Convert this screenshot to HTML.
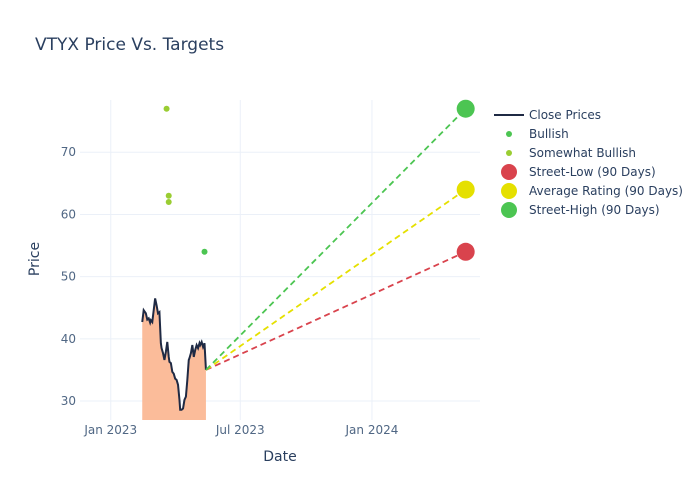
<!DOCTYPE html>
<html><head><meta charset="utf-8"><style>
body{margin:0;background:#fff;font-family:"DejaVu Sans",sans-serif;}
svg text{font-family:"DejaVu Sans",sans-serif;}
</style></head><body>
<svg id="chart" width="700" height="500" xmlns="http://www.w3.org/2000/svg">
<rect width="700" height="500" fill="#fff"/>
<text x="35" y="50" font-size="17" fill="#2a3f5f">VTYX Price Vs. Targets</text>
<g id="grid"></g><g id="marks"></g><g id="axes"></g>
<text x="280" y="461" font-size="14" fill="#2a3f5f" text-anchor="middle">Date</text>
<text x="39" y="259" font-size="14" fill="#2a3f5f" text-anchor="middle" transform="rotate(-90 39 259)">Price</text>
<g id="legend"></g>
</svg>
<script>
// x values are days since 2023-01-01
const closeDays=[44,46,49,51,53,55,56,58,60,62,64,66,68,70,71,73,75,77,79,81,82,84,86,88,90,92,94,96,97,99,101,103,105,107,109,110,112,114,116,118,120,122,124,125,127,129,131,133];
const closePrices=[42.7,44.6,44.1,43.1,43.3,42.6,43.0,42.7,44.6,46.5,45.4,44.1,44.3,39.3,38.5,37.7,36.6,37.9,39.5,37.1,36.3,36.1,34.7,34.4,33.6,33.4,32.6,30.2,28.6,28.6,28.8,30.2,30.7,33.4,36.6,36.9,37.7,39.0,37.1,38.2,39.0,38.5,39.3,39.0,39.5,38.7,39.3,35.0];
const bullishDays=[131];
const bullishPrices=[54];
const somewhatDays=[78,81,81];
const somewhatPrices=[77,63,62];
const targetDay=496;
const targetNames=["Street-Low (90 Days)","Average Rating (90 Days)","Street-High (90 Days)"];
const targetValues=[54,64,77];
const targetColors=["#d9434d","#e5e000","#4cc552"];
const yTicks=[30,40,50,60,70];
const xTickDays=[0,181,365];
const xTickLabels=["Jan 2023","Jul 2023","Jan 2024"];

const NS="http://www.w3.org/2000/svg";
const L=80,R=480,T=100,B=420;
const X0=-43,X1=516,Y0=26.95,Y1=78.4;
const xs=d=>L+(d-X0)/(X1-X0)*(R-L);
const ys=v=>B-(v-Y0)/(Y1-Y0)*(B-T);
function mk(tag,attrs,parent){const e=document.createElementNS(NS,tag);for(const k in attrs)e.setAttribute(k,attrs[k]);parent.appendChild(e);return e;}
const grid=document.getElementById('grid'),marks=document.getElementById('marks'),axes=document.getElementById('axes'),legend=document.getElementById('legend');
yTicks.forEach(v=>{
  const l=mk('line',{x1:L,x2:R,y1:ys(v),y2:ys(v),stroke:'#ebf0f8'},grid);
  
  
  const t=mk('text',{x:L-4,y:ys(v)+4,'font-size':12,fill:'#506784','text-anchor':'end'},axes);
  t.textContent=v;
  
  
});
xTickDays.forEach((d,i)=>{
  const l=mk('line',{x1:xs(d),x2:xs(d),y1:T,y2:B,stroke:'#ebf0f8'},grid);
  
  
  const t=mk('text',{x:xs(d),y:B+14,'font-size':12,fill:'#506784','text-anchor':'middle'},axes);
  t.textContent=xTickLabels[i];
  
  
});
let pts=closeDays.map((d,i)=>xs(d)+','+ys(closePrices[i])).join(' ');
const area=mk('polygon',{points:xs(closeDays[0])+','+B+' '+pts+' '+xs(closeDays[closeDays.length-1])+','+B,fill:'#fbb58f',opacity:0.9},marks);


const line=mk('polyline',{points:pts,fill:'none',stroke:'#1f2a44','stroke-width':2},marks);


const lastD=closeDays[closeDays.length-1],lastP=closePrices[closePrices.length-1];
targetValues.forEach((v,i)=>{
  const tl=mk('line',{x1:xs(lastD),y1:ys(lastP),x2:xs(targetDay),y2:ys(v),stroke:targetColors[i],'stroke-width':1.8,'stroke-dasharray':'6,4'},marks);
  
  
});
targetValues.forEach((v,i)=>{
  const c=mk('circle',{cx:xs(targetDay),cy:ys(v),r:9,fill:targetColors[i]},marks);
  
  
});
bullishDays.forEach((d,i)=>{
  const c=mk('circle',{cx:xs(d),cy:ys(bullishPrices[i]),r:3,fill:'#4cc552'},marks);
  
  
});
somewhatDays.forEach((d,i)=>{
  const c=mk('circle',{cx:xs(d),cy:ys(somewhatPrices[i]),r:3,fill:'#9acd32'},marks);
  
  
});
const items=[["line","#1f2a44","Close Prices"],["s","#4cc552","Bullish"],["xs","#9acd32","Somewhat Bullish"],["b",targetColors[0],targetNames[0]],["b",targetColors[1],targetNames[1]],["b",targetColors[2],targetNames[2]]];
items.forEach((it,i)=>{
  const y=115+i*19;
  const g=mk('g',{},legend);
  
  
  if(it[0]==='line')mk('line',{x1:494,x2:524,y1:y,y2:y,stroke:it[1],'stroke-width':2},g);
  else mk('circle',{cx:509,cy:y,r:it[0]==='b'?8:3,fill:it[1]},g);
  const t=mk('text',{x:529,y:y+4,'font-size':12,fill:'#2a3f5f'},g);
  t.textContent=it[2];
});
</script>
</body></html>
